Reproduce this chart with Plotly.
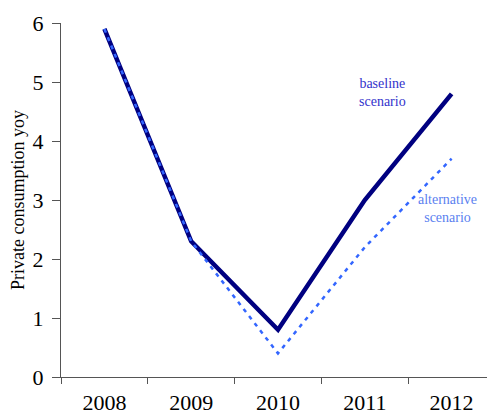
import plotly.graph_objects as go

years = ["2008", "2009", "2010", "2011", "2012"]
baseline = [5.9, 2.3, 0.8, 3.0, 4.8]
alternative = [5.9, 2.3, 0.4, 2.2, 3.7]

fig = go.Figure()
fig.add_trace(go.Scatter(x=years, y=baseline, mode="lines",
                         line=dict(color="#000080", width=4.5), showlegend=False))
fig.add_trace(go.Scatter(x=years, y=alternative, mode="lines",
                         line=dict(color="#3366ff", width=2.5, dash="4px,5px"), showlegend=False))

fig.add_annotation(x=3.2, y=4.83, xref="x", yref="y", text="baseline<br>scenario",
                   showarrow=False, font=dict(family="Liberation Serif", size=14, color="#3333cc"),
                   align="center")
fig.add_annotation(x=3.95, y=2.85, xref="x", yref="y", text="alternative<br>scenario",
                   showarrow=False, font=dict(family="Liberation Serif", size=14, color="#5b7ff0"),
                   align="center")

fig.update_layout(
    width=495, height=419,
    margin=dict(l=53, r=8, t=15, b=50, autoexpand=False),
    paper_bgcolor="white", plot_bgcolor="white",
    font=dict(family="Liberation Serif", size=22, color="black"),
)
fig.update_xaxes(type="category", range=[-0.5, 4.5], showline=True, linecolor="#555",
                 linewidth=1, ticks="outside", ticklen=6, tickcolor="#555", automargin=False,
                 tickson="boundaries", showgrid=False, zeroline=False, ticklabelstandoff=6)
fig.update_yaxes(range=[0, 6], dtick=1, showline=True, linecolor="#555", linewidth=1,
                 ticks="outside", ticklen=8, tickcolor="#555", showgrid=False, zeroline=False,
                 ticklabelstandoff=4, automargin=False,
                 title=dict(text="Private consumption yoy", font=dict(size=18), standoff=4))

fig.write_html("out.html")
